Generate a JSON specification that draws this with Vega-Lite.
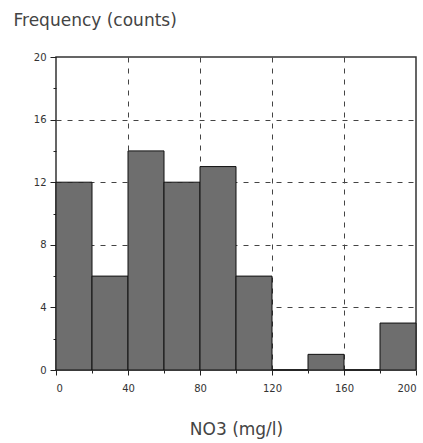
{
  "$schema": "https://vega.github.io/schema/vega-lite/v6.json",
  "width": 360,
  "height": 313,
  "autosize": {"type": "none"},
  "padding": {"left": 56, "top": 57, "right": 7, "bottom": 73},
  "background": "white",
  "config": {
    "view": {"stroke": "#333333", "strokeWidth": 1.5},
    "font": "DejaVu Sans"
  },
  "data": {
    "values": [
      {"bin_start": 0, "bin_end": 20, "count": 12},
      {"bin_start": 20, "bin_end": 40, "count": 6},
      {"bin_start": 40, "bin_end": 60, "count": 14},
      {"bin_start": 60, "bin_end": 80, "count": 12},
      {"bin_start": 80, "bin_end": 100, "count": 13},
      {"bin_start": 100, "bin_end": 120, "count": 6},
      {"bin_start": 120, "bin_end": 140, "count": 0},
      {"bin_start": 140, "bin_end": 160, "count": 1},
      {"bin_start": 160, "bin_end": 180, "count": 0},
      {"bin_start": 180, "bin_end": 200, "count": 3}
    ]
  },
  "mark": {"type": "rect", "fill": "#6e6e6e", "stroke": "#111111", "strokeWidth": 1},
  "encoding": {
    "x": {
      "field": "bin_start",
      "type": "quantitative",
      "scale": {"domain": [0, 200], "nice": false, "zero": false},
      "axis": {
        "title": "NO3 (mg/l)",
        "titleFont": "DejaVu Sans",
        "titleFontSize": 17,
        "titleFontWeight": "normal",
        "titleColor": "#444444",
        "titleBaseline": "alphabetic",
        "titleY": 64,
        "values": [0, 20, 40, 60, 80, 100, 120, 140, 160, 180, 200],
        "labelExpr": "datum.value % 40 === 0 ? datum.label : ''",
        "labelFontSize": 10,
        "labelColor": "#333333",
        "labelPadding": 8,
        "tickColor": "#222222",
        "tickSize": {"condition": {"test": "datum.value % 40 === 0", "value": 5}, "value": 3},
        "domain": false,
        "grid": true,
        "gridColor": "#444444",
        "gridDash": [5, 6],
        "gridWidth": 1,
        "gridOpacity": {"condition": {"test": "datum.value % 40 === 0 && datum.value > 0 && datum.value < 200", "value": 1}, "value": 0}
      }
    },
    "x2": {"field": "bin_end"},
    "y": {
      "field": "count",
      "type": "quantitative",
      "scale": {"domain": [0, 20], "nice": false},
      "axis": {
        "title": "Frequency (counts)",
        "titleFont": "DejaVu Sans",
        "titleFontSize": 17,
        "titleFontWeight": "normal",
        "titleColor": "#444444",
        "titleAngle": 0,
        "titleAlign": "left",
        "titleBaseline": "alphabetic",
        "titleX": -43,
        "titleY": -32,
        "values": [0, 2, 4, 6, 8, 10, 12, 14, 16, 18, 20],
        "labelExpr": "datum.value % 4 === 0 ? datum.label : ''",
        "labelFontSize": 10,
        "labelColor": "#333333",
        "labelPadding": 4,
        "tickColor": "#222222",
        "tickSize": {"condition": {"test": "datum.value % 4 === 0", "value": 6}, "value": 3},
        "domain": false,
        "grid": true,
        "gridColor": "#444444",
        "gridDash": [5, 6],
        "gridWidth": 1,
        "gridOpacity": {"condition": {"test": "datum.value % 4 === 0 && datum.value > 0 && datum.value < 20", "value": 1}, "value": 0}
      }
    },
    "y2": {"datum": 0}
  }
}
